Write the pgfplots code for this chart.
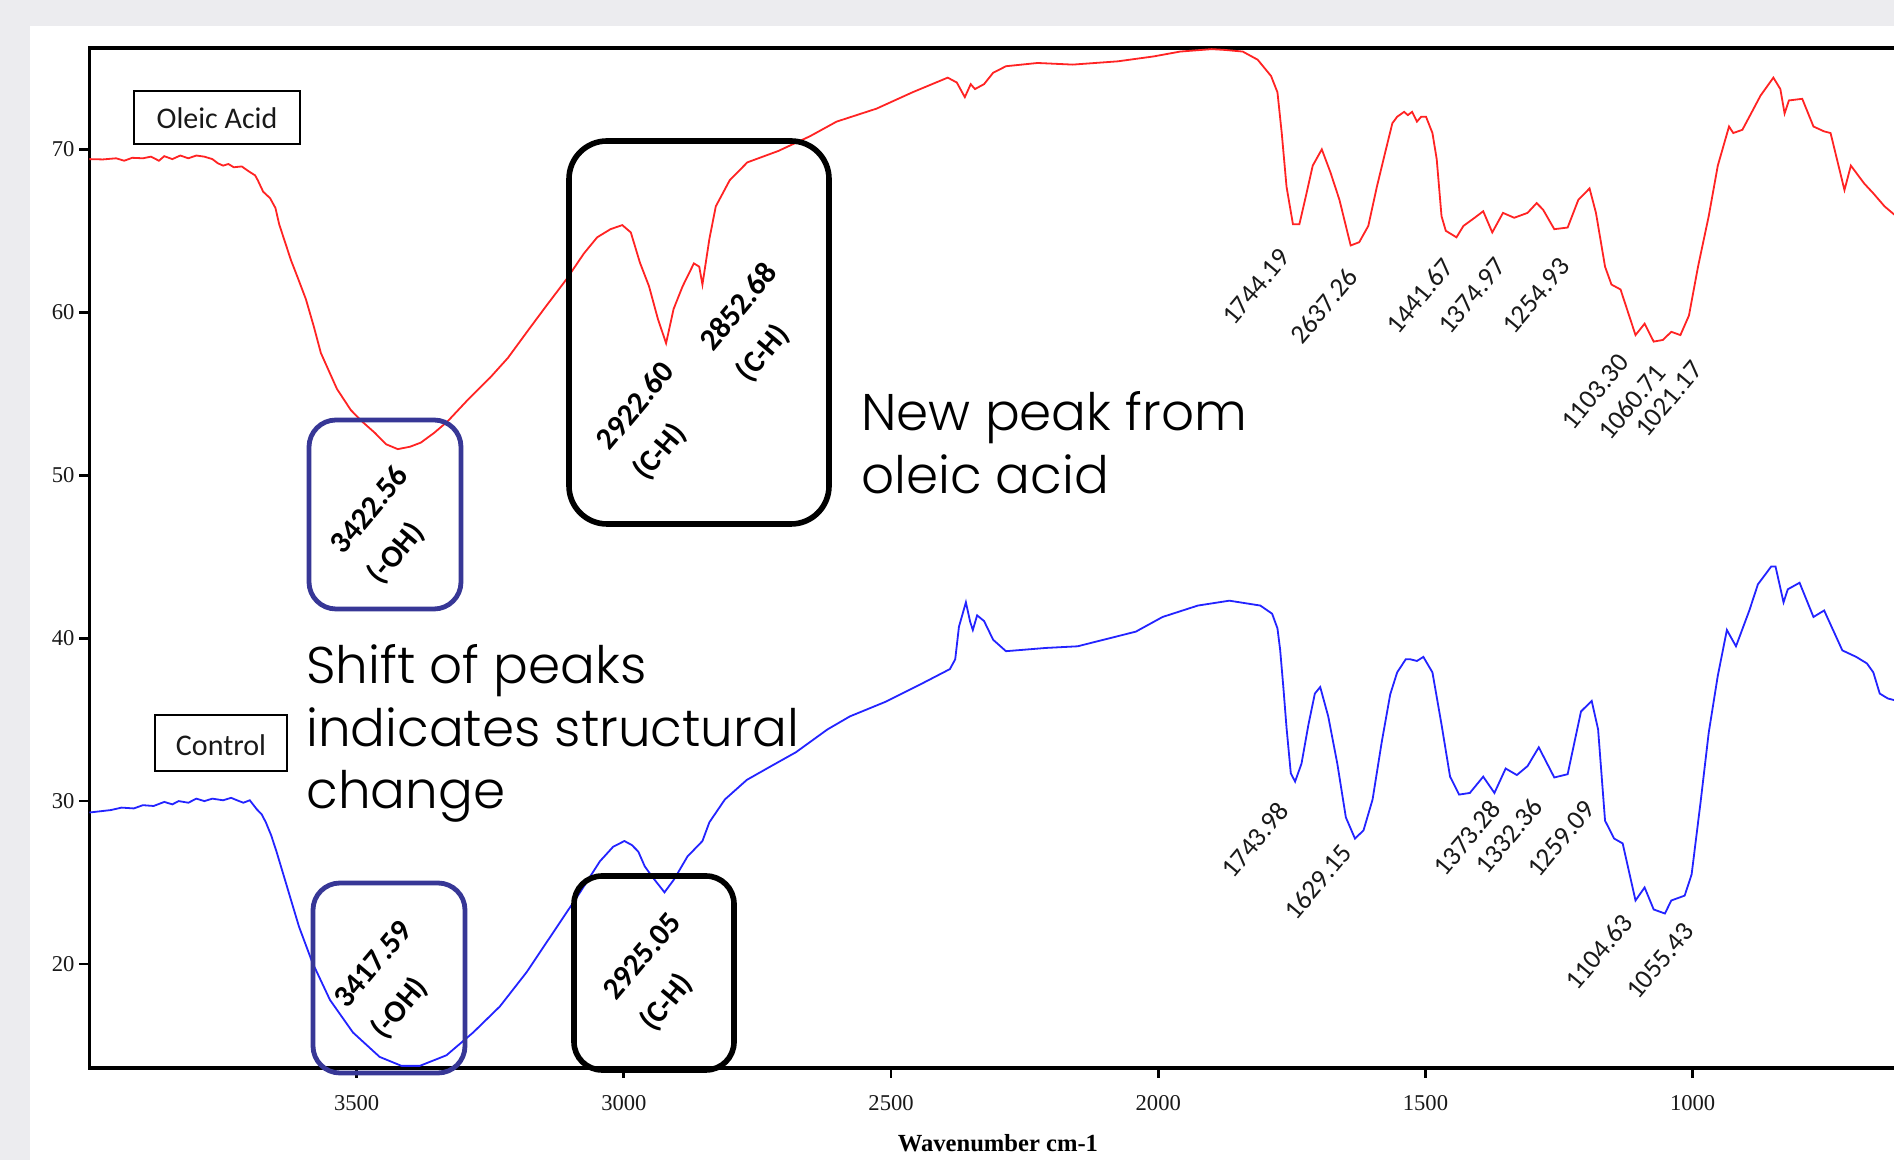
\documentclass[border=0pt]{standalone}
\usepackage{fontspec}
\usepackage{pgfplots}
\usepackage{pgfplotstable}
\pgfplotsset{compat=1.18}
\setmainfont{Liberation Serif}
\newfontfamily\calibri{Carlito}
\newfontfamily\gothic{Poppins Light}
\definecolor{bggray}{RGB}{236,236,239}
\definecolor{boxblue}{RGB}{55,55,150}
\definecolor{specred}{RGB}{255,35,35}
\definecolor{specblue}{RGB}{35,35,255}
\definecolor{txt}{RGB}{25,25,25}

\pgfplotstableread{
w v
4000 69.40
3975 69.38
3950 69.45
3935 69.30
3920 69.48
3900 69.45
3885 69.55
3870 69.30
3860 69.58
3845 69.40
3830 69.62
3815 69.45
3800 69.62
3785 69.55
3770 69.40
3760 69.15
3750 69.00
3740 69.10
3730 68.90
3715 68.95
3702 68.65
3690 68.40
3685 68.10
3675 67.40
3662 67.00
3652 66.40
3645 65.40
3635 64.40
3623 63.20
3610 62.10
3595 60.80
3580 59.10
3567 57.50
3552 56.40
3537 55.30
3511 54.00
3490 53.30
3466 52.60
3445 51.90
3423 51.60
3400 51.75
3380 52.00
3355 52.60
3330 53.30
3310 54.00
3290 54.70
3250 56.00
3217 57.20
3179 58.90
3145 60.40
3108 62.00
3075 63.60
3050 64.60
3025 65.10
3003 65.35
2987 64.90
2970 63.05
2953 61.60
2936 59.55
2921 58.10
2907 60.20
2890 61.60
2869 63.00
2859 62.80
2853 61.70
2840 64.50
2828 66.50
2802 68.10
2769 69.20
2711 69.90
2652 70.80
2602 71.70
2527 72.50
2460 73.50
2394 74.40
2377 74.10
2362 73.20
2351 74.00
2343 73.70
2326 74.00
2309 74.70
2285 75.10
2226 75.30
2160 75.20
2076 75.40
2009 75.70
1959 76.00
1900 76.15
1875 76.10
1842 76.00
1814 75.50
1789 74.50
1777 73.50
1769 71.00
1760 67.70
1748 65.40
1736 65.40
1724 67.10
1711 69.00
1694 70.00
1678 68.60
1661 66.90
1640 64.10
1624 64.30
1607 65.30
1591 67.70
1574 70.00
1562 71.60
1553 72.00
1540 72.30
1533 72.10
1525 72.30
1516 71.70
1508 72.00
1499 72.00
1487 71.00
1479 69.40
1470 65.90
1462 65.00
1452 64.80
1442 64.60
1429 65.30
1408 65.80
1392 66.20
1375 64.90
1355 66.10
1334 65.80
1309 66.10
1292 66.70
1280 66.30
1259 65.10
1234 65.20
1214 66.90
1193 67.60
1181 66.10
1164 62.80
1152 61.70
1135 61.40
1123 60.20
1107 58.60
1090 59.30
1073 58.20
1056 58.30
1040 58.80
1023 58.60
1007 59.80
990 62.80
970 65.90
953 69.00
932 71.40
924 71.00
907 71.20
894 72.00
873 73.30
849 74.40
836 73.70
828 72.20
820 73.00
795 73.10
774 71.40
754 71.10
742 71.00
716 67.50
704 69.00
679 67.90
662 67.30
641 66.50
623 66.00
600 65.80
}\oleic

\pgfplotstableread{
w v
4000 29.30
3960 29.45
3940 29.60
3917 29.55
3900 29.75
3880 29.70
3860 29.95
3845 29.80
3833 30.00
3815 29.90
3800 30.15
3785 30.00
3770 30.15
3750 30.05
3735 30.20
3720 30.00
3712 29.90
3700 30.05
3687 29.50
3678 29.20
3670 28.70
3660 27.90
3650 26.90
3629 24.60
3608 22.30
3583 20.10
3550 17.80
3507 15.80
3457 14.30
3416 13.75
3382 13.75
3332 14.40
3282 15.80
3232 17.40
3182 19.50
3132 21.95
3082 24.40
3045 26.30
3020 27.20
2999 27.55
2985 27.30
2973 26.90
2961 26.00
2948 25.40
2924 24.40
2906 25.20
2881 26.60
2853 27.55
2840 28.70
2811 30.10
2770 31.30
2727 32.10
2678 33.00
2619 34.40
2577 35.20
2510 36.10
2443 37.20
2390 38.10
2380 38.70
2373 40.70
2360 42.20
2352 41.00
2347 40.50
2339 41.40
2326 41.05
2309 39.90
2285 39.20
2210 39.40
2151 39.50
2042 40.40
1992 41.30
1926 42.00
1867 42.30
1809 42.00
1787 41.50
1777 40.60
1772 39.30
1766 37.00
1760 34.50
1752 31.70
1744 31.20
1732 32.30
1719 34.70
1707 36.60
1697 37.00
1682 35.20
1665 32.30
1649 29.00
1632 27.70
1616 28.20
1599 30.10
1582 33.60
1566 36.55
1553 37.90
1537 38.70
1528 38.70
1516 38.60
1504 38.85
1487 37.90
1470 34.70
1454 31.50
1437 30.40
1417 30.50
1392 31.50
1371 30.50
1350 32.00
1329 31.60
1309 32.15
1288 33.30
1259 31.45
1234 31.65
1209 35.50
1189 36.15
1177 34.40
1164 28.80
1147 27.70
1131 27.40
1107 23.90
1090 24.70
1073 23.35
1052 23.10
1040 23.90
1015 24.20
1002 25.50
985 30.00
970 34.20
953 37.70
936 40.50
919 39.50
894 41.70
878 43.30
853 44.40
845 44.40
830 42.20
822 43.00
800 43.40
774 41.30
754 41.70
720 39.25
694 38.85
674 38.45
662 37.90
650 36.60
635 36.30
600 36.00
}\control

\begin{document}
\begin{tikzpicture}
\useasboundingbox (-44.75pt,-46pt) rectangle (902.25pt,534pt);
\clip (-44.75pt,-46pt) rectangle (902.25pt,534pt);
\begin{scope}[x=0.5pt,y=-0.5pt,shift={(-44.75pt,534pt)}]
  \fill[bggray] (0,0) rectangle (1894,1160);
  \fill[white] (30,26) rectangle (1894,1160);
\end{scope}
\begin{axis}[
  scale only axis,
  width=961.92pt, height=510pt,
  x dir=reverse,
  xmin=400, xmax=4000,
  ymin=13.62, ymax=76.22,
  xtick={1000,1500,2000,2500,3000,3500},
  ytick={20,30,40,50,60,70},
  tick pos=left,
  tick align=outside,
  major tick length=5pt,
  axis line style={line width=1.8pt},
  every tick/.style={black,line width=1.4pt},
  /pgf/number format/assume math mode=true,
  /pgf/number format/1000 sep={},
  xticklabel style={font=\fontsize{11.3}{13}\selectfont, yshift=-5pt, text=txt},
  yticklabel style={font=\fontsize{11.3}{13}\selectfont, text=txt, xshift=1pt},
  xlabel={Wavenumber cm-1},
  xlabel style={font=\bfseries\fontsize{12.3}{14}\selectfont, at={(axis description cs:0.4722,0)}, anchor=center, yshift=-37.5pt},
]
\addplot[specred, line width=0.9pt] table[x=w,y=v] {\oleic};
\addplot[specblue, line width=0.9pt] table[x=w,y=v] {\control};
\end{axis}
\begin{scope}[x=0.5pt,y=-0.5pt,shift={(-44.75pt,534pt)}]
  % legend-like label boxes
  \draw[line width=0.8pt] (134,91) rectangle (300,144);
  \node[font=\calibri\fontsize{15}{18}\selectfont, text=txt] at (217,118.5) {Oleic Acid};
  \draw[line width=0.8pt] (155,715) rectangle (287,771);
  \node[font=\calibri\fontsize{15}{18}\selectfont, text=txt] at (221,745) {Control};
  % rounded callout boxes
  \draw[boxblue, line width=2.4pt, rounded corners=13.5pt] (309,420) rectangle (461,609);
  \draw[boxblue, line width=2.4pt, rounded corners=13.5pt] (313,883) rectangle (465,1073);
  \draw[black, line width=2.8pt, rounded corners=19pt] (569,141) rectangle (829,524);
  \draw[black, line width=2.8pt, rounded corners=14pt] (574,876) rectangle (734,1070);
  % bold boxed labels
  \tikzset{bl/.style={rotate=50, align=left, text=black, font=\calibri\bfseries\fontsize{15.5}{24}\selectfont}}
  \node[bl] at (389,526) {3422.56\\(-OH)};
  \node[bl] at (655,422) {2922.60\\(C-H)};
  \node[bl] at (758,323) {2852.68\\(C-H)};
  \node[bl] at (393,981) {3417.59\\(-OH)};
  \node[bl] at (662,973) {2925.05\\(C-H)};
  % peak labels
  \tikzset{pl/.style={rotate=50, text=txt, font=\calibri\fontsize{13.5}{16}\selectfont}}
  \node[pl] at (1256,287) {1744.19};
  \node[pl] at (1324,306) {2637.26};
  \node[pl] at (1420,296) {1441.67};
  \node[pl] at (1472,296) {1374.97};
  \node[pl] at (1536,296) {1254.93};
  \node[pl] at (1595,392) {1103.30};
  \node[pl] at (1632,402) {1060.71};
  \node[pl] at (1669,399) {1021.17};
  \node[pl] at (1255,840) {1743.98};
  \node[pl] at (1318,882) {1629.15};
  \node[pl] at (1467,838) {1373.28};
  \node[pl] at (1509,836) {1332.36};
  \node[pl] at (1561,839) {1259.09};
  \node[pl] at (1599,952) {1104.63};
  \node[pl] at (1660,961) {1055.43};
  % callout texts
  \tikzset{gt/.style={anchor=base west, inner sep=0pt, text=black, font=\gothic\fontsize{25.8}{31}\selectfont}}
  \node[gt] at (861,431) {New peak from};
  \node[gt] at (861,494) {oleic acid};
  \node[gt] at (306,684) {Shift of peaks};
  \node[gt] at (306,747) {indicates structural};
  \node[gt] at (306,809) {change};
\end{scope}
\end{tikzpicture}
\end{document}
